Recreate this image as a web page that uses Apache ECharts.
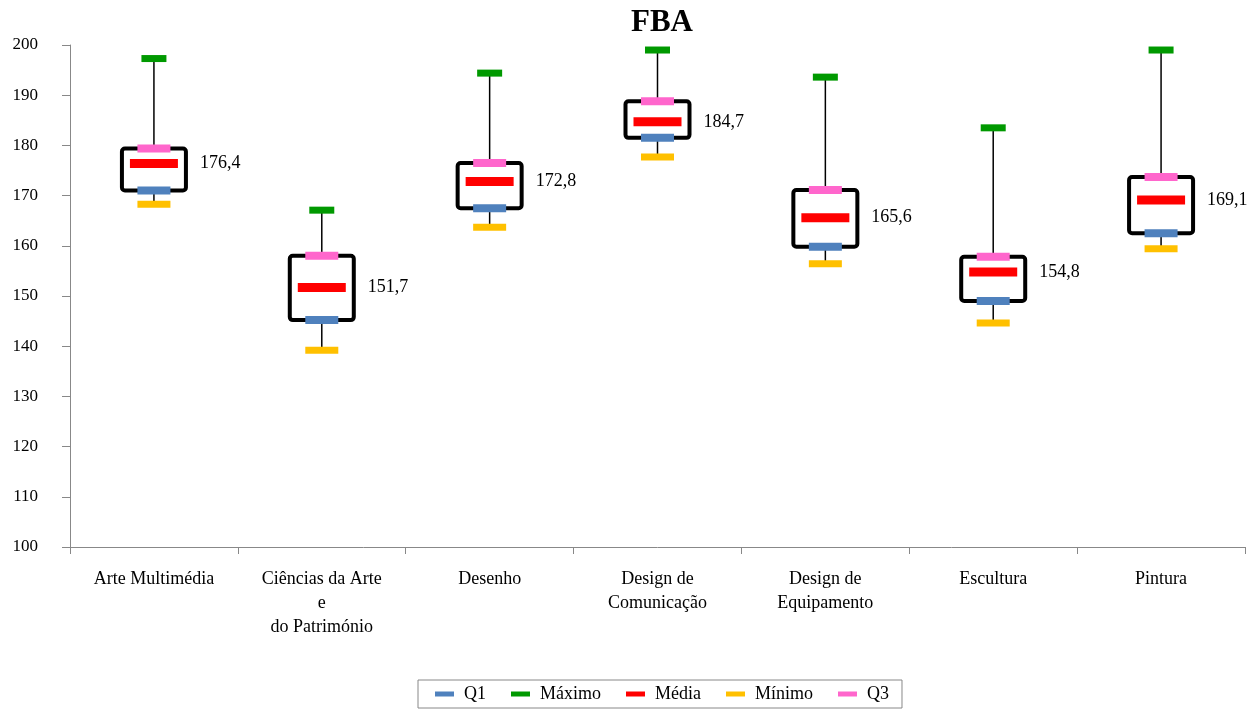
<!DOCTYPE html>
<html>
  <head>
    <meta charset="utf-8" />
    <title>FBA</title>
    <script src="https://cdn.jsdelivr.net/npm/echarts@6/dist/echarts.min.js"></script>
  </head>
  <body style="margin:0;">
    <div id="chart" style="width:1251px;height:711px;"></div>
    <script type="text/javascript">
      // values
      var categories = ['Arte Multimédia', 'Ciências da Arte\ne\ndo Património', 'Desenho',
        'Design de\nComunicação', 'Design de\nEquipamento', 'Escultura', 'Pintura'];
      var q1 = [171.0, 145.2, 167.5, 181.5, 159.8, 149.0, 162.5];
      var maximo = [197.3, 167.1, 194.4, 199.0, 193.6, 183.5, 199.0];
      var media = [176.4, 151.7, 172.8, 184.7, 165.6, 154.8, 169.1];
      var minimo = [168.3, 139.2, 163.7, 177.7, 156.4, 144.6, 159.4];
      var q3 = [179.4, 158.0, 176.5, 188.8, 171.1, 157.8, 173.7];
      var yTicks = { min: 100, max: 200, interval: 10 };

      var serif = '"Liberation Serif", "DejaVu Serif", serif';

      var boxData = categories.map(function (c, i) {
        return [i, q1[i], q3[i], minimo[i], maximo[i]];
      });

      function renderBox(params, api) {
        var x = api.value(0);
        var pQ1 = api.coord([x, api.value(1)]);
        var pQ3 = api.coord([x, api.value(2)]);
        var pMin = api.coord([x, api.value(3)]);
        var pMax = api.coord([x, api.value(4)]);
        var w = 64;
        var cx = pQ1[0];
        return {
          type: 'group',
          children: [
            { type: 'line', shape: { x1: cx, y1: pMax[1], x2: cx, y2: pQ3[1] },
              style: { stroke: '#000', lineWidth: 1.5 } },
            { type: 'line', shape: { x1: cx, y1: pQ1[1], x2: cx, y2: pMin[1] },
              style: { stroke: '#000', lineWidth: 1.5 } },
            { type: 'rect', shape: { x: cx - w / 2, y: pQ3[1], width: w, height: pQ1[1] - pQ3[1], r: 3 },
              style: { fill: 'none', stroke: '#000', lineWidth: 4 } }
          ]
        };
      }

      function markSeries(name, values, color, size) {
        return {
          name: name,
          type: 'scatter',
          symbol: 'rect',
          symbolSize: size,
          itemStyle: { color: color, opacity: 1 },
          z: 5,
          data: values.map(function (v, i) { return [i, v]; })
        };
      }

      var mediaSeries = markSeries('Média', media, '#ff0000', [48, 9]);
      mediaSeries.label = {
        show: true,
        position: 'right',
        distance: 22,
        fontFamily: serif,
        fontSize: 18,
        color: '#000',
        formatter: function (p) { return p.value[1].toFixed(1).replace('.', ','); }
      };

      var chart = echarts.init(document.getElementById('chart'));
      chart.setOption({
        animation: false,
        title: {
          text: 'FBA',
          left: 626,
          top: 2,
          textStyle: { fontFamily: serif, fontSize: 31, fontWeight: 'bold', color: '#000' }
        },
        legend: {
          bottom: 3,
          left: 418,
          data: [
            { name: 'Q1', icon: 'rect' },
            { name: 'Máximo', icon: 'rect' },
            { name: 'Média', icon: 'rect' },
            { name: 'Mínimo', icon: 'rect' },
            { name: 'Q3', icon: 'rect' }
          ],
          itemWidth: 19,
          itemHeight: 5,
          itemGap: 25,
          padding: [5, 13, 5, 17],
          borderColor: '#888',
          borderWidth: 1,
          borderRadius: 0,
          textStyle: { fontFamily: serif, fontSize: 18, color: '#000', padding: [0, 0, 0, 5] }
        },
        grid: { left: 70, right: 6, top: 45, bottom: 164 },
        xAxis: {
          type: 'category',
          data: categories,
          axisLine: { lineStyle: { color: '#888' } },
          axisTick: { show: true, length: 7, lineStyle: { color: '#888' } },
          axisLabel: {
            fontFamily: serif, fontSize: 18, color: '#000', margin: 20, lineHeight: 24, interval: 0
          }
        },
        yAxis: {
          type: 'value',
          min: yTicks.min,
          max: yTicks.max,
          interval: yTicks.interval,
          axisLine: { show: true, lineStyle: { color: '#888' } },
          axisTick: { show: true, length: 8, lineStyle: { color: '#888' } },
          splitLine: { show: false },
          axisLabel: { fontFamily: serif, fontSize: 17, color: '#000', margin: 32 }
        },
        series: [
          {
            name: 'box',
            type: 'custom',
            renderItem: renderBox,
            data: boxData,
            z: 2,
            silent: true
          },
          markSeries('Q1', q1, '#4f81bd', [33, 8]),
          markSeries('Máximo', maximo, '#009900', [25, 7]),
          mediaSeries,
          markSeries('Mínimo', minimo, '#ffc000', [33, 7]),
          markSeries('Q3', q3, '#ff66cc', [33, 8])
        ]
      });
    </script>
  </body>
</html>
